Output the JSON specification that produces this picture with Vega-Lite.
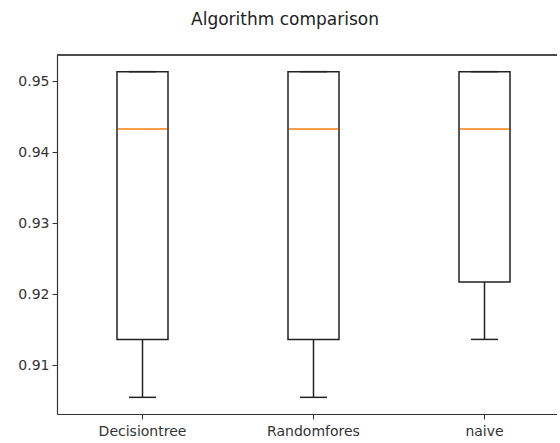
{
  "$schema": "https://vega.github.io/schema/vega-lite/v6.json",
  "autosize": {"type": "none"},
  "padding": {"left": 57, "top": 55, "right": 0, "bottom": 29},
  "width": 500,
  "height": 359,
  "background": "white",
  "title": {
    "text": "Algorithm comparison",
    "font": "DejaVu Sans",
    "fontSize": 17,
    "fontWeight": "normal",
    "color": "#222",
    "anchor": "middle",
    "baseline": "alphabetic",
    "offset": 12,
    "dx": -22
  },
  "config": {
    "view": {"stroke": "transparent", "strokeWidth": 0},
    "axis": {
      "labelFont": "DejaVu Sans",
      "labelFontSize": 14,
      "labelColor": "#333",
      "tickColor": "#333",
      "tickSize": 5,
      "tickWidth": 1,
      "domain": true,
      "domainColor": "#333",
      "domainWidth": 1.2,
      "grid": false,
      "title": null
    }
  },
  "data": {
    "values": [
      {"model": "Decisiontree", "min": 0.90545, "q1": 0.91362, "median": 0.94331, "q3": 0.95138, "max": 0.95138},
      {"model": "Randomfores", "min": 0.90545, "q1": 0.91362, "median": 0.94331, "q3": 0.95138, "max": 0.95138},
      {"model": "naive", "min": 0.91362, "q1": 0.92172, "median": 0.94331, "q3": 0.95138, "max": 0.95138}
    ]
  },
  "encoding": {
    "x": {
      "field": "model",
      "type": "nominal",
      "sort": null,
      "scale": {"type": "band", "range": [0, 513], "paddingInner": 0, "paddingOuter": 0},
      "axis": {"labelAngle": 0, "labelPadding": 5}
    }
  },
  "layer": [
    {
      "mark": {"type": "bar", "size": 51, "fill": "white", "stroke": "#222", "strokeWidth": 1.5},
      "encoding": {
        "y": {
          "field": "q1",
          "type": "quantitative",
          "scale": {"domain": [0.9031, 0.95373], "zero": false, "nice": false},
          "axis": {"values": [0.91, 0.92, 0.93, 0.94, 0.95], "format": ".2f", "labelPadding": 3}
        },
        "y2": {"field": "q3"}
      }
    },
    {
      "mark": {"type": "tick", "orient": "horizontal", "size": 49, "thickness": 1.5, "color": "#ff7f0e", "opacity": 1},
      "encoding": {"y": {"field": "median", "type": "quantitative"}}
    },
    {
      "mark": {"type": "rule", "color": "#222", "strokeWidth": 1.5},
      "encoding": {"y": {"field": "min", "type": "quantitative"}, "y2": {"field": "q1"}}
    },
    {
      "mark": {"type": "rule", "color": "#222", "strokeWidth": 1.5},
      "encoding": {"y": {"field": "q3", "type": "quantitative"}, "y2": {"field": "max"}}
    },
    {
      "mark": {"type": "tick", "orient": "horizontal", "size": 27, "thickness": 1.5, "color": "#222", "opacity": 1},
      "encoding": {"y": {"field": "min", "type": "quantitative"}}
    },
    {
      "mark": {"type": "tick", "orient": "horizontal", "size": 27, "thickness": 1.5, "color": "#222", "opacity": 1},
      "encoding": {"y": {"field": "max", "type": "quantitative"}}
    },
    {
      "mark": {"type": "rule", "color": "#333", "strokeWidth": 1.2},
      "encoding": {"x": null, "y": {"datum": 0.95373, "type": "quantitative"}}
    }
  ]
}
